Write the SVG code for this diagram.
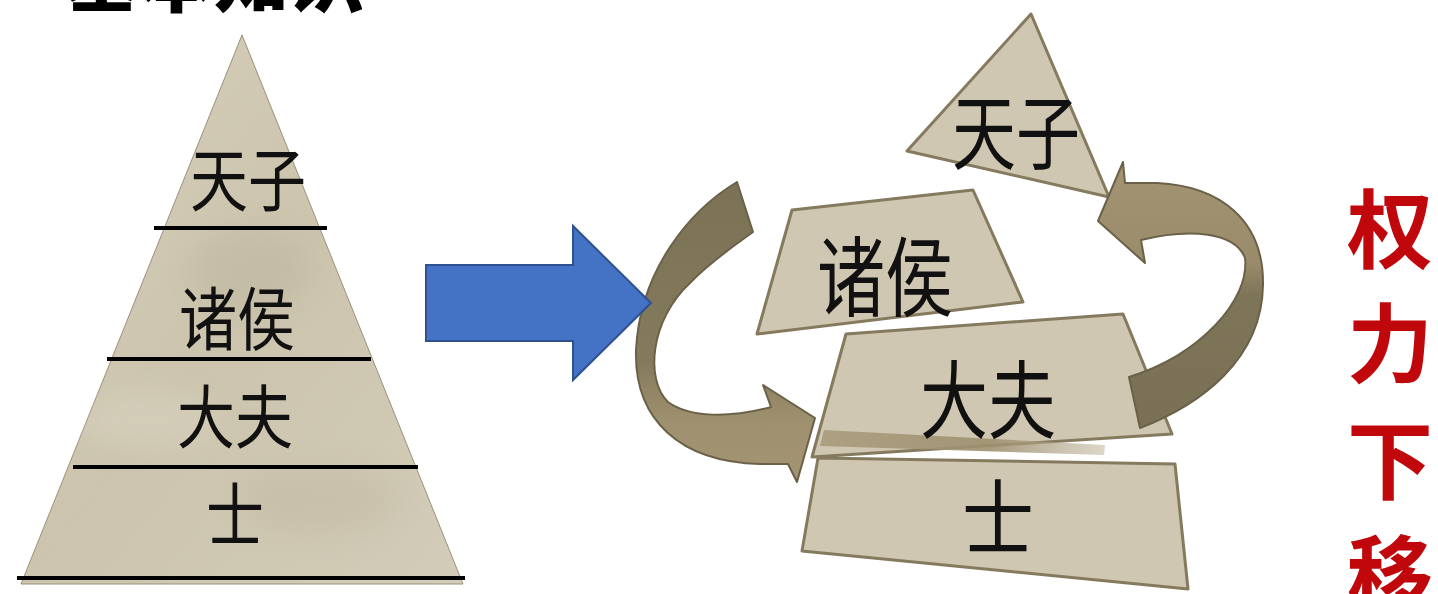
<svg xmlns="http://www.w3.org/2000/svg" width="1438" height="594" viewBox="0 0 1438 594">
  <style>
    .lbl { font-family: "Noto Sans CJK SC", "Noto Sans CJK TC", sans-serif; font-weight: 400; fill: #111; text-anchor: middle; dominant-baseline: central; }
    .title { font-family: "Noto Sans CJK SC", sans-serif; font-weight: 900; fill: #000; }
    .red { font-family: "Noto Sans CJK SC", sans-serif; font-weight: 700; fill: #c0080c; text-anchor: middle; dominant-baseline: central; }
    .slab { fill: #cfc7b1; stroke: #857a5e; stroke-width: 3; stroke-linejoin: round; }
    .tier { stroke: #000; stroke-width: 4; }
  </style>
  <defs>
    <linearGradient id="pyr" x1="0" y1="0" x2="1" y2="1">
      <stop offset="0" stop-color="#d6cfbb"/>
      <stop offset="0.5" stop-color="#ccc4ad"/>
      <stop offset="1" stop-color="#d3ccb8"/>
    </linearGradient>
    <linearGradient id="gl" x1="0" y1="180" x2="0" y2="482" gradientUnits="userSpaceOnUse">
      <stop offset="0" stop-color="#7b7155"/>
      <stop offset="0.6" stop-color="#847a5c"/>
      <stop offset="0.8" stop-color="#9f916f"/>
      <stop offset="1" stop-color="#a39574"/>
    </linearGradient>
    <linearGradient id="gr" x1="0" y1="160" x2="0" y2="430" gradientUnits="userSpaceOnUse">
      <stop offset="0" stop-color="#a39574"/>
      <stop offset="0.38" stop-color="#9a8c6b"/>
      <stop offset="0.5" stop-color="#7e7458"/>
      <stop offset="1" stop-color="#7a7055"/>
    </linearGradient>
    <linearGradient id="strip" x1="0" y1="0" x2="1" y2="0">
      <stop offset="0" stop-color="#a89c7c" stop-opacity="0.9"/>
      <stop offset="0.6" stop-color="#9d906f" stop-opacity="0.9"/>
      <stop offset="1" stop-color="#b9ae92" stop-opacity="0.5"/>
    </linearGradient>
    <filter id="soft" x="-20%" y="-20%" width="140%" height="140%">
      <feGaussianBlur stdDeviation="14"/>
    </filter>
    <clipPath id="tri">
      <polygon points="242,35 463,584 21,584"/>
    </clipPath>
  </defs>

  <rect width="1438" height="594" fill="#fff"/>

  <g id="title">
    <text class="title" x="64" y="6" font-size="75">基本知识</text>
  </g>

  <g id="pyramid-left">
    <polygon points="242,35 463,584 21,584" fill="url(#pyr)" stroke="#9a917a" stroke-width="1"/>
    <g clip-path="url(#tri)" opacity="0.35" filter="url(#soft)">
      <ellipse cx="250" cy="270" rx="60" ry="40" fill="#b5ad98"/>
      <ellipse cx="150" cy="420" rx="70" ry="30" fill="#e2dccb"/>
      <ellipse cx="320" cy="500" rx="80" ry="35" fill="#bdb49e"/>
    </g>
    <line class="tier" x1="154" y1="228" x2="327" y2="228"/>
    <line class="tier" x1="107" y1="359" x2="371" y2="359"/>
    <line class="tier" x1="73" y1="467" x2="418" y2="467"/>
    <line class="tier" x1="17" y1="578" x2="465" y2="578"/>
    <g id="left-tianzi"><text class="lbl" font-size="58" transform="translate(248,176) scale(1,1.2)">天子</text></g>
    <g id="left-zhuhou"><text class="lbl" font-size="58" transform="translate(237,315) scale(1,1.2)">诸侯</text></g>
    <g id="left-dafu"><text class="lbl" font-size="58" transform="translate(235,413) scale(1,1.2)">大夫</text></g>
    <g id="left-shi"><text class="lbl" font-size="58" transform="translate(235,511) scale(1,1.2)">士</text></g>
  </g>

  <g id="right-tianzi">
    <polygon class="slab" points="1031,14 907,151 1109,197"/>
    <text class="lbl" font-size="64" transform="translate(1016,127) scale(1,1.28)">天子</text>
  </g>
  <g id="right-zhuhou">
    <polygon class="slab" points="792,210 973,190 1023,302 757,334"/>
    <text class="lbl" font-size="68" transform="translate(885,272) scale(1,1.28)">诸侯</text>
  </g>
  <g id="right-dafu">
    <polygon class="slab" points="846,334 1123,314 1172,434 812,457"/>
    <polygon points="824,430 1105,445 1104,455 820,446" fill="url(#strip)"/>
    <text class="lbl" font-size="68" transform="translate(988,395) scale(1,1.25)">大夫</text>
  </g>
  <g id="right-shi">
    <polygon class="slab" points="818,458 1175,464 1188,589 802,551"/>
    <text class="lbl" font-size="72" transform="translate(998,513) scale(1,1.15)">士</text>
  </g>

  <g id="connectors">
    <path d="M737,182 C690,210 640,270 636,350 C634,420 680,462 760,464 L788,464 L797,482 L815,418 L763,385 L771,407 C730,418 690,418 668,402 C645,380 650,320 690,283 C710,262 735,245 753,232 Z" fill="url(#gl)" stroke="#6b6148" stroke-width="2" stroke-linejoin="round"/>
    <path d="M1140,428 C1200,405 1262,360 1263,285 C1264,220 1220,186 1157,183 L1125,183 L1123,162 L1098,221 L1145,263 L1141,240 C1190,228 1235,232 1245,258 C1250,300 1200,355 1129,377 Z" fill="url(#gr)" stroke="#6b6148" stroke-width="2" stroke-linejoin="round"/>
  </g>

  <g id="blue-arrow">
    <polygon points="426,265 573,265 573,226 651,303 573,380 573,341 426,341" fill="#4472c4" stroke="#2f528f" stroke-width="2"/>
  </g>

  <g id="slogan">
    <text class="red" x="1390" y="224" font-size="86">权</text>
    <text class="red" x="1390" y="338" font-size="86">力</text>
    <text class="red" x="1390" y="455" font-size="86">下</text>
    <text class="red" x="1390" y="570" font-size="86">移</text>
  </g>
</svg>
